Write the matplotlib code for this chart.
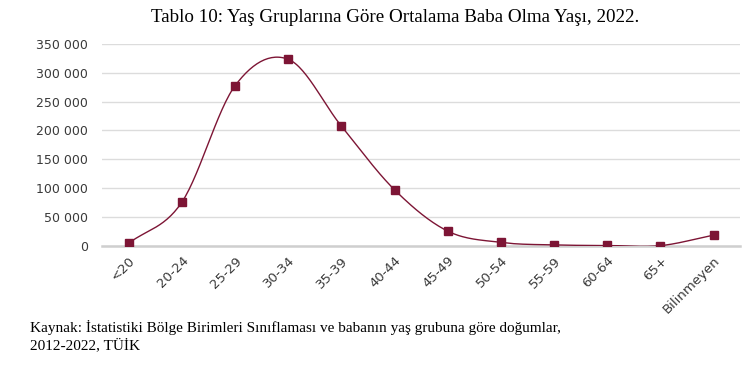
import numpy as np
import matplotlib
matplotlib.use('Agg')
from matplotlib import pyplot as plt
from matplotlib.ticker import FuncFormatter

# data
age_groups = ['<20', '20-24', '25-29', '30-34', '35-39', '40-44',
              '45-49', '50-54', '55-59', '60-64', '65+', 'Bilinmeyen']
births = [4200, 75300, 277300, 323600, 207800, 97200,
          25500, 5900, 1500, 600, 300, 18600]
y_ticks = [0, 50000, 100000, 150000, 200000, 250000, 300000, 350000]

COLOR = '#7d1535'


def smooth(x, y, n=30):
    # catmull-rom curve through the points (like excel "smoothed line")
    x = np.asarray(x, float)
    y = np.asarray(y, float)
    px = np.concatenate([[2 * x[0] - x[1]], x, [2 * x[-1] - x[-2]]])
    py = np.concatenate([[2 * y[0] - y[1]], y, [2 * y[-1] - y[-2]]])
    xs, ys = [], []
    t = np.linspace(0, 1, n)
    for i in range(1, len(px) - 2):
        for p, out in ((px, xs), (py, ys)):
            p0, p1, p2, p3 = p[i - 1], p[i], p[i + 1], p[i + 2]
            out.extend(0.5 * (2 * p1 + (-p0 + p2) * t
                              + (2 * p0 - 5 * p1 + 4 * p2 - p3) * t ** 2
                              + (-p0 + 3 * p1 - 3 * p2 + p3) * t ** 3))
    return np.array(xs), np.array(ys)


def main():
    fig = plt.figure(figsize=(7.44, 3.73), dpi=100)
    ax = fig.add_axes([0.137, 0.341, 0.858, 0.541])

    x = np.arange(len(age_groups))
    sx, sy = smooth(x, births)
    ax.plot(sx, sy, color=COLOR, lw=1.0, zorder=3)
    ax.plot(x, births, ls='none', marker='s', ms=6, color=COLOR, zorder=4)

    ax.set_xlim(-0.5, len(age_groups) - 0.5)
    ax.set_ylim(0, 350000)
    ax.set_yticks(y_ticks)
    ax.yaxis.set_major_formatter(
        FuncFormatter(lambda v, p: f'{int(v):,}'.replace(',', ' ')))
    ax.set_xticks(x)
    ax.set_xticklabels(age_groups, rotation=45, ha='right',
                       rotation_mode='anchor')

    ax.grid(axis='y', color='#dcdcdc', lw=1.0)
    ax.set_axisbelow(True)
    for s in ['top', 'right', 'left']:
        ax.spines[s].set_visible(False)
    ax.spines['bottom'].set_color('#cfcfcf')
    ax.spines['bottom'].set_linewidth(1.8)
    ax.tick_params(length=0, labelsize=9, labelcolor='#3a3a3a')
    ax.tick_params(axis='y', pad=10)
    ax.tick_params(axis='x', pad=6, labelsize=9.5)
    for lab in ax.get_xticklabels() + ax.get_yticklabels():
        lab.set_family('DejaVu Sans')

    fig.text(0.531, 0.952, 'Tablo 10: Yaş Gruplarına Göre Ortalama Baba Olma Yaşı, 2022.',
             ha='center', va='center', family='Liberation Serif', fontsize=13.7)
    fig.text(0.04, 0.099,
             'Kaynak: İstatistiki Bölge Birimleri Sınıflaması ve babanın yaş grubuna göre doğumlar,\n'
             '2012-2022, TÜİK',
             ha='left', va='center', family='Liberation Serif', fontsize=11,
             linespacing=1.3)

    fig.savefig('out.png', dpi=100)


if __name__ == '__main__':
    main()
